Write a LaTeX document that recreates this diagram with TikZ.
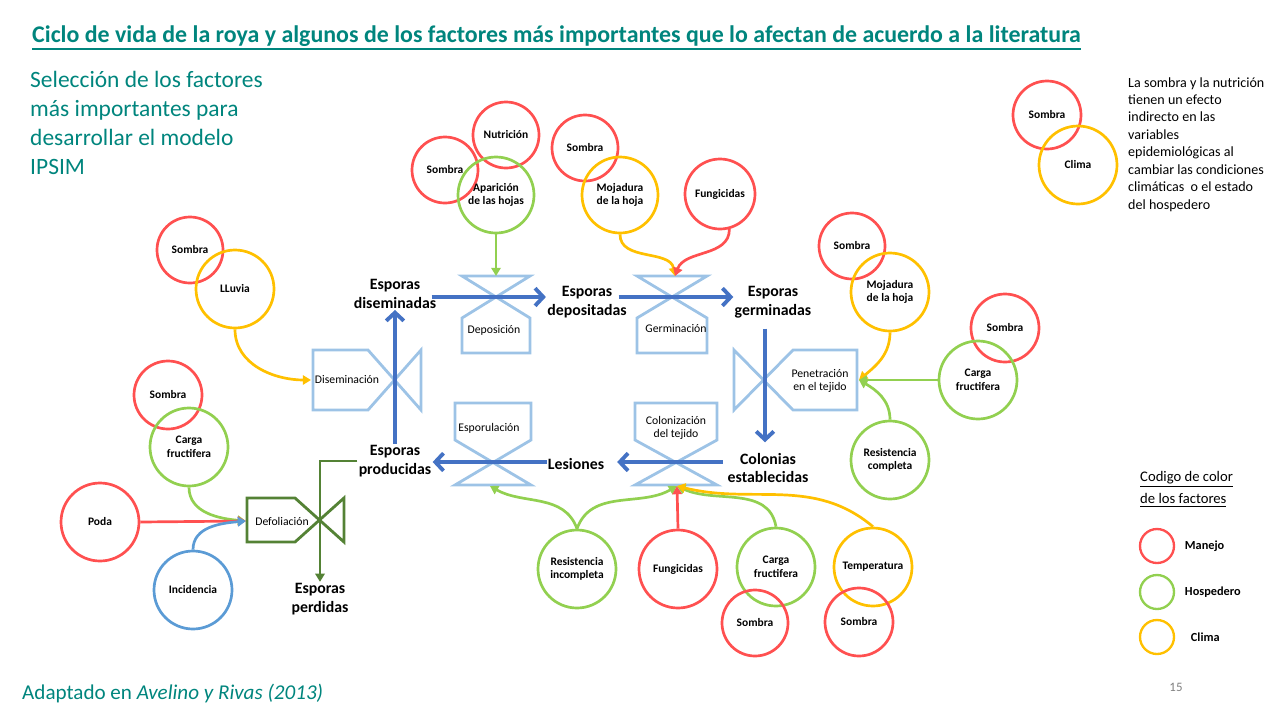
\documentclass[tikz,border=0pt]{standalone}
\usepackage{fontspec}
\setmainfont{Carlito}
\usepackage{tikz}
\usetikzlibrary{arrows.meta}
\usetikzlibrary{positioning}
\definecolor{rojo}{HTML}{FF5050}
\definecolor{verde}{HTML}{92D050}
\definecolor{amarillo}{HTML}{FFC000}
\definecolor{azul}{HTML}{4472C4}
\definecolor{azulclaro}{HTML}{9DC3E6}
\definecolor{azulinc}{HTML}{5B9BD5}
\definecolor{verdeosc}{HTML}{548235}
\definecolor{turquesa}{HTML}{00857D}
\newcommand{\subrayar}[2][1pt]{\leavevmode\vtop{\hbox{#2}\kern1.6pt\hrule height #1}}
\tikzset{
  factor/.style={circle, draw, line width=2.3pt, minimum size=#1, inner sep=0pt, align=center, font=\bfseries\fontsize{9.8}{11.5}\selectfont},
  factor/.default=2.34cm,
  manejo/.style={factor=#1, draw=rojo},
  manejo/.default=2.34cm,
  hospedero/.style={factor=#1, draw=verde},
  hospedero/.default=2.34cm,
  clima/.style={factor=#1, draw=amarillo},
  clima/.default=2.34cm,
  valvula/.style={draw=azulclaro, line width=2.4pt, line join=miter},
  etiqueta/.style={align=center, inner sep=1pt, font=\fontsize{10}{11.5}\selectfont},
  estado/.style={align=center, inner sep=1pt, font=\bfseries\fontsize{13.5}{16}\selectfont},
  flujo/.style={-{Straight Barb[length=7pt,width=15pt]}, draw=azul, line width=3.3pt},
  perdida/.style={-{Triangle[length=7pt,width=8pt]}, draw=verdeosc, line width=2.4pt},
  efecto/.style={-{Triangle[length=7pt,width=8pt]}, line width=2.3pt},
  leyenda/.style={font=\bfseries\fontsize{10.5}{12}\selectfont},
}

\begin{document}
\begin{tikzpicture}[x=0.03cm, y=-0.03cm]
  \useasboundingbox (0,0) rectangle (1280,720);
  % textos
  \node[anchor=west, inner sep=0pt, text=turquesa, font=\bfseries\fontsize{20.4}{23}\selectfont] (tit) at (32,38)
    {\subrayar[1.6pt]{Ciclo de vida de la roya y algunos de los factores más importantes que lo afectan de acuerdo a la literatura}};
  \node[anchor=north west, inner sep=0pt, align=left, text=turquesa, font=\fontsize{20}{24.8}\selectfont] (sel) at (30,71)
    {Selección de los factores\\más importantes para\\desarrollar el modelo\\IPSIM};
  \node[anchor=north west, inner sep=0pt, align=left, font=\fontsize{12}{14.9}\selectfont] (nota) at (1128,77)
    {La sombra y la nutrición\\tienen un efecto\\indirecto en las\\variables\\epidemiológicas al\\cambiar las condiciones\\climáticas~ o el estado\\del hospedero};
  \node[anchor=west, inner sep=0pt, text=turquesa, font=\fontsize{18}{20}\selectfont] (fuente) at (22,693)
    {Adaptado en \textit{Avelino y Rivas (2013)}};
  \node[text=gray, font=\fontsize{11}{13}\selectfont] (pag) at (1176,687) {15};

  % valvulas
  \coordinate (vdis) at (395,380);
  \coordinate (vdep) at (496,297);
  \coordinate (vger) at (672,297);
  \coordinate (vpen) at (765,380);
  \coordinate (vcol) at (676,462);
  \coordinate (vesp) at (493,462);
  \coordinate (vdef) at (320,520);
  \draw[valvula, shift={(vdis)}] (26,-30) -- (26,30) -- (-27,-30) -- (-82,-30) -- (-82,30) -- (-27,30) -- cycle;
  \draw[valvula, shift={(vdep)}] (-34,-21) -- (34,-21) -- (-34,21) -- (-34,56) -- (34,56) -- (34,21) -- cycle;
  \draw[valvula, shift={(vger)}] (-35,-21) -- (35,-21) -- (-35,21) -- (-35,56) -- (35,56) -- (35,21) -- cycle;
  \draw[valvula, shift={(vpen)}] (-31,-30) -- (-31,30) -- (28,-30) -- (92,-30) -- (92,30) -- (28,30) -- cycle;
  \draw[valvula, shift={(vcol)}] (-41,23) -- (41,23) -- (-41,-22) -- (-41,-59) -- (41,-59) -- (41,-22) -- cycle;
  \draw[valvula, shift={(vesp)}] (-38,23) -- (38,23) -- (-38,-22) -- (-38,-59) -- (38,-59) -- (38,-22) -- cycle;
  \draw[valvula, draw=verdeosc, shift={(vdef)}] (24,-22) -- (24,22) -- (-25,-22) -- (-73,-22) -- (-73,22) -- (-25,22) -- cycle;
  \node[etiqueta] (ldis) at (347,380) {Diseminación};
  \node[etiqueta] (ldep) at (494,330) {Deposición};
  \node[etiqueta] (lger) at (676,329) {Germinación};
  \node[etiqueta] (lpen) at (820,381) {Penetración\\en el tejido};
  \node[etiqueta] (lcol) at (676,428) {Colonización\\del tejido};
  \node[etiqueta] (lesp) at (489,428) {Esporulación};
  \node[etiqueta] (ldef) at (282,521) {Defoliación};

  % estados de la roya
  \node[estado] (dis) at (395,294) {Esporas\\diseminadas};
  \node[estado] (dep) at (587,302) {Esporas\\depositadas};
  \node[estado] (ger) at (773,302) {Esporas\\germinadas};
  \node[estado] (col) at (768,468) {Colonias\\establecidas};
  \node[estado] (les) at (576,464) {Lesiones};
  \node[estado] (prod) at (395,461) {Esporas\\producidas};
  \node[estado] (perd) at (320,599) {Esporas\\perdidas};
  \draw[flujo] (prod.north) -- (dis.south);
  \draw[flujo, shorten <=-5pt] (vdep -| dis.east) -- (vdep -| dep.west);
  \draw[flujo, shorten <=-8pt] (vger -| dep.east) -- (vger -| ger.west);
  \draw[flujo, shorten <=8pt, shorten >=8pt] (vpen |- ger.south) -- (vpen |- col.north);
  \draw[flujo, shorten <=3pt, shorten >=10pt] (vcol -| col.west) -- (vcol -| les.east);
  \draw[flujo] (vesp -| les.west) -- (vesp -| prod.east);
  \draw[perdida] (prod.west) -| (perd.north);

  % factores
  \node[manejo=1.98cm] (som1) at (190,250) {Sombra};
  \node[clima] (llu) at (235,289) {LLuvia};
  \node[manejo=1.98cm] (som2) at (445,170) {Sombra};
  \node[manejo=1.98cm] (nut) at (506,135) {Nutrición};
  \node[hospedero=2.28cm] (apa) at (496,195) {Aparición\\de las hojas};
  \node[manejo=1.98cm] (som3) at (585,148) {Sombra};
  \node[clima=2.28cm] (moj1) at (620,195) {Mojadura\\de la hoja};
  \node[manejo=2.1cm] (fun1) at (720,194) {Fungicidas};
  \node[manejo=1.98cm] (som4) at (852,246) {Sombra};
  \node[clima] (moj2) at (890,292) {Mojadura\\de la hoja};
  \node[manejo=2.04cm] (som5) at (1005,328) {Sombra};
  \node[hospedero] (car2) at (978,380) {Carga\\fructifera};
  \node[hospedero] (res1) at (890,460) {Resistencia\\completa};
  \node[manejo=2.04cm] (som6) at (168,395) {Sombra};
  \node[hospedero] (car1) at (189,447) {Carga\\fructifera};
  \node[manejo] (poda) at (100,522) {Poda};
  \node[factor, draw=azulinc] (inc) at (193,590) {Incidencia};
  \node[hospedero] (res2) at (577,569) {Resistencia\\incompleta};
  \node[manejo] (fun2) at (678,569) {Fungicidas};
  \node[hospedero] (car3) at (776,567) {Carga\\fructifera};
  \node[manejo=1.98cm] (som7) at (755,623) {Sombra};
  \node[clima] (tem) at (873,567) {Temperatura};
  \node[manejo=2.04cm] (som8) at (859,622) {Sombra};
  \node[manejo=2.04cm] (som9) at (1047,115) {Sombra};
  \node[clima] (cli) at (1078,165) {Clima};

  % efectos sobre las valvulas
  \coordinate (disin) at (311,380);
  \coordinate (depin) at (496,276);
  \coordinate (gerin) at (675,276);
  \coordinate (penin) at (859,380);
  \coordinate (colin) at (677,486);
  \coordinate (espin) at (490,486);
  \coordinate (defin) at (246,521);
  \draw[efecto, amarillo] (llu.south) to[out=-90, in=180] (disin);
  \draw[efecto, verde] (apa.south) -- (depin);
  \draw[efecto, amarillo] (moj1.south) to[out=-90, in=100] (gerin);
  \draw[efecto, rojo] (fun1.-75) to[out=-90, in=70] (gerin);
  \draw[efecto, amarillo] (moj2.south) to[out=-90, in=40] (penin);
  \draw[efecto, verde] (car2.west) -- (penin);
  \draw[efecto, verde] (res1.north) to[out=90, in=-30] (penin);
  \draw[efecto, verde] (car1.south) to[out=-90, in=175] (defin);
  \draw[efecto, rojo] (poda.east) -- (defin);
  \draw[efecto, azulinc] (inc.north) to[out=90, in=185] (defin);
  \draw[efecto, verde] (res2.north) to[out=110, in=-30] (espin);
  \draw[efecto, verde] (res2.north) to[out=70, in=-150] (colin);
  \draw[efecto, rojo] (fun2.north) -- (colin);
  \draw[efecto, verde] (car3.north) to[out=100, in=-25] (colin);
  \draw[efecto, amarillo] (tem.north) to[out=140, in=-14] (colin);

  % codigo de color
  \node[anchor=north west, inner sep=0pt, align=left, font=\fontsize{12.5}{19}\selectfont] (cod) at (1140,471)
    {\subrayar{Codigo de color}\\\subrayar{de los factores}};
  \node[manejo=1.02cm, line width=2pt] (lman) at (1157,546) {};
  \node[hospedero=1.02cm, line width=2pt] (lhos) at (1157,592) {};
  \node[clima=1.02cm, line width=2pt] (lcli) at (1157,637) {};
  \node[leyenda, right=0.17cm of lman] {Manejo};
  \node[leyenda, right=0.17cm of lhos] {Hospedero};
  \node[leyenda, right=0.35cm of lcli] {Clima};
\end{tikzpicture}
\end{document}
